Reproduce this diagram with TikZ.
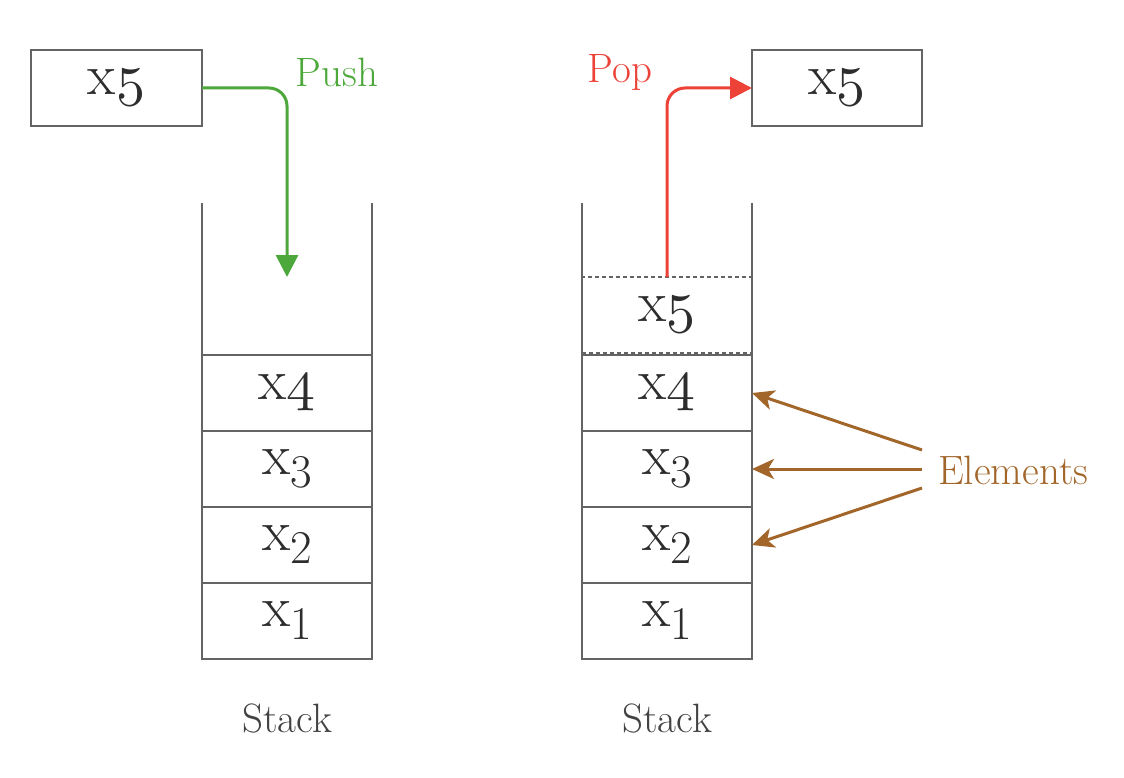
\documentclass[tikz,border=0pt]{standalone}
\usetikzlibrary{arrows.meta}
\definecolor{pushgreen}{RGB}{76,168,58}
\definecolor{popred}{RGB}{236,66,56}
\definecolor{elembrown}{RGB}{163,102,42}
\definecolor{linegray}{RGB}{100,100,100}
\definecolor{txtgray}{RGB}{45,45,45}
\font\osfnt=cmmi10 at 58pt
\newcommand{\bigsz}{\fontsize{58}{60}\selectfont}
\newcommand{\lblsz}{\fontsize{41}{43}\selectfont}
\newcommand{\osd}[1]{{\osfnt #1}}
\newcommand{\subdig}[1]{\raisebox{-13pt}{\fontsize{47}{49}\selectfont #1}}
\begin{document}
\begin{tikzpicture}[x=1pt,y=-1pt,
  cell/.style={draw=linegray, line width=2pt, outer sep=0pt, minimum width=170pt, minimum height=76pt, inner sep=0pt, font=\bigsz, text=txtgray},
  dashcell/.style={draw=linegray, line width=1.5pt, outer sep=0pt, dash pattern=on 4pt off 3pt, minimum width=170pt, minimum height=76pt, inner sep=0pt, font=\bigsz, text=txtgray},
  wall/.style={draw=linegray, line width=2pt},
  lbl/.style={font=\lblsz, text=txtgray!90, inner sep=0pt},
  pusharrow/.style={draw=pushgreen, line width=3pt, rounded corners=18pt, -{Triangle[length=22pt,width=22pt]}},
  poparrow/.style={draw=popred, line width=3pt, rounded corners=18pt, -{Triangle[length=22pt,width=22pt]}},
  elemarrow/.style={draw=elembrown, line width=3pt, -{Stealth[length=22pt,width=20pt,inset=6pt]}}]
\useasboundingbox (0,0) rectangle (1124,778);

% Left: push
\node[cell, minimum width=171pt] (lx5) at (116.5,88) {x\osd{5}};
\node[lbl, text=pushgreen] (push) at (337,72) {Push};
\coordinate (pushend) at (287,277);
\draw[pusharrow] (lx5.east) -| (pushend);

\node[cell] (l4) at (287,393) {x\osd{4}};
\node[cell] (l3) at (287,469) {x\subdig{3}};
\node[cell] (l2) at (287,545) {x\subdig{2}};
\node[cell] (l1) at (287,621) {x\subdig{1}};
\coordinate (lwl) at (202,203);
\coordinate (lwr) at (372,203);
\draw[wall] (lwl) -- (l4.north west);
\draw[wall] (lwr) -- (l4.north east);
\node[lbl] (lstack) at (287,718) {Stack};

% Right: pop
\node[cell] (rx5) at (837,88) {x\osd{5}};
\node[lbl, text=popred] (pop) at (620,72) {Pop};

\node[dashcell] (r5) at (667,315) {x\osd{5}};
\node[cell] (r4) at (667,393) {x\osd{4}};
\node[cell] (r3) at (667,469) {x\subdig{3}};
\node[cell] (r2) at (667,545) {x\subdig{2}};
\node[cell] (r1) at (667,621) {x\subdig{1}};
\coordinate (rwl) at (582,203);
\coordinate (rwr) at (752,203);
\draw[wall] (rwl) -- (r4.north west);
\draw[wall] (rwr) -- (r4.north east);
\draw[poparrow] (r5.north) |- (rx5.west);
\node[lbl] (rstack) at (667,718) {Stack};

% Elements
\node[lbl, text=elembrown, anchor=west] (elem) at (938,470) {Elements};
\coordinate (e1) at (922,450);
\coordinate (e2) at (922,469);
\coordinate (e3) at (922,488);
\draw[elemarrow] (e1) -- (r4.east);
\draw[elemarrow] (e2) -- (r3.east);
\draw[elemarrow] (e3) -- (r2.east);
\end{tikzpicture}
\end{document}
